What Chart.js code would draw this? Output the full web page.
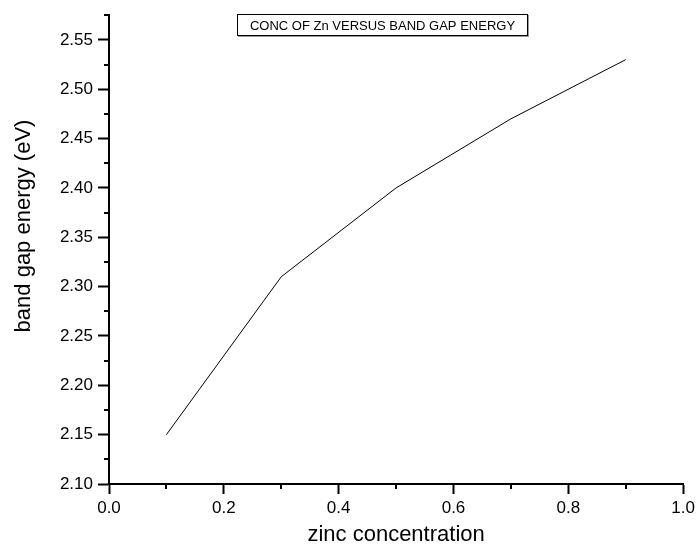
<!DOCTYPE html>
<html>
<head>
<meta charset="utf-8">
<script src="https://cdn.jsdelivr.net/npm/chart.js@4.4.0/dist/chart.umd.min.js"></script>
<style>
  html, body { margin: 0; padding: 0; background: #fff; }
  #wrap { width: 699px; height: 548px; }
</style>
</head>
<body>
<div id="wrap"><canvas id="chart" width="699" height="548"></canvas></div>
<script>
/********** DATA **********/
const zincConc = [0.1, 0.3, 0.5, 0.7, 0.9];
const bandGap = [2.15, 2.31, 2.40, 2.47, 2.53];

const xTicks = [0.0, 0.2, 0.4, 0.6, 0.8, 1.0];
const xMinorTicks = [0.1, 0.3, 0.5, 0.7, 0.9];
const yTicks = [2.10, 2.15, 2.20, 2.25, 2.30, 2.35, 2.40, 2.45, 2.50, 2.55];
const yMinorTicks = [2.125, 2.175, 2.225, 2.275, 2.325, 2.375, 2.425, 2.475, 2.525, 2.575];

const TITLE = "CONC OF Zn VERSUS BAND GAP ENERGY";
const X_TITLE = "zinc concentration";
const Y_TITLE = "band gap energy (eV)";
const FONT = "'Liberation Sans', Arial, sans-serif";

/********** PLUGINS **********/
// short minor ticks (Chart.js has no minor ticks)
const minorTicks = {
  id: 'minorTicks',
  afterDraw(chart) {
    const { ctx, scales: { x, y } } = chart;
    ctx.save();
    ctx.strokeStyle = '#000';
    ctx.lineWidth = 2;
    ctx.beginPath();
    xMinorTicks.forEach(v => {
      const px = Math.round(x.getPixelForValue(v));
      ctx.moveTo(px, y.bottom);
      ctx.lineTo(px, y.bottom + 5);
    });
    yMinorTicks.forEach(v => {
      const py = Math.round(y.getPixelForValue(v));
      ctx.moveTo(x.left, py);
      ctx.lineTo(x.left - 5, py);
    });
    ctx.stroke();
    ctx.restore();
  }
};

// boxed title inside the plot + rotated y title
const titles = {
  id: 'titles',
  afterDraw(chart) {
    const ctx = chart.ctx;
    const bx = 237, by = 14, bw = 291, bh = 22;
    ctx.save();
    ctx.fillStyle = '#999';
    ctx.fillRect(bx + 1, by + 1, bw, bh);
    ctx.fillStyle = '#fff';
    ctx.fillRect(bx, by, bw, bh);
    ctx.strokeStyle = '#000';
    ctx.lineWidth = 1;
    ctx.strokeRect(bx + 0.5, by + 0.5, bw - 1, bh - 1);
    ctx.fillStyle = '#000';
    ctx.font = '13px ' + FONT;
    ctx.textAlign = 'center';
    ctx.textBaseline = 'middle';
    ctx.fillText(TITLE, bx + bw / 2, by + bh / 2 + 1);

    ctx.translate(24, 226);
    ctx.rotate(-Math.PI / 2);
    ctx.font = '22px ' + FONT;
    ctx.fillText(Y_TITLE, 0, 0);
    ctx.restore();
  }
};

/********** CHART **********/
new Chart(document.getElementById('chart'), {
  type: 'line',
  data: {
    datasets: [{
      data: zincConc.map((v, i) => ({ x: v, y: bandGap[i] })),
      borderColor: '#000',
      borderWidth: 1,
      pointRadius: 0,
      tension: 0,
      fill: false
    }]
  },
  options: {
    responsive: false,
    animation: false,
    layout: { padding: { top: 15, right: 13, left: 0, bottom: 0 } },
    plugins: { legend: { display: false }, tooltip: { enabled: false } },
    scales: {
      x: {
        type: 'linear',
        min: 0,
        max: 1,
        afterBuildTicks: s => { s.ticks = xTicks.map(v => ({ value: v })); },
        afterFit: s => { s.height = 64; },
        border: { color: '#000', width: 2 },
        grid: { drawOnChartArea: false, drawTicks: true, tickLength: 10, tickWidth: 2, tickColor: '#000' },
        ticks: {
          color: '#000',
          padding: 4,
          maxRotation: 0,
          font: { family: FONT, size: 17 },
          callback: v => v.toFixed(1)
        },
        title: {
          display: true,
          text: X_TITLE,
          color: '#000',
          font: { family: FONT, size: 22 },
          padding: { top: 0, bottom: 0 }
        }
      },
      y: {
        type: 'linear',
        min: 2.10,
        max: 2.575,
        afterBuildTicks: s => { s.ticks = yTicks.map(v => ({ value: v })); },
        afterFit: s => { s.width = 109; },
        border: { color: '#000', width: 2 },
        grid: { drawOnChartArea: false, drawTicks: true, tickLength: 11, tickWidth: 2, tickColor: '#000' },
        ticks: {
          color: '#000',
          padding: 5,
          font: { family: FONT, size: 17 },
          callback: v => v.toFixed(2)
        }
      }
    }
  },
  plugins: [minorTicks, titles]
});
</script>
</body>
</html>
